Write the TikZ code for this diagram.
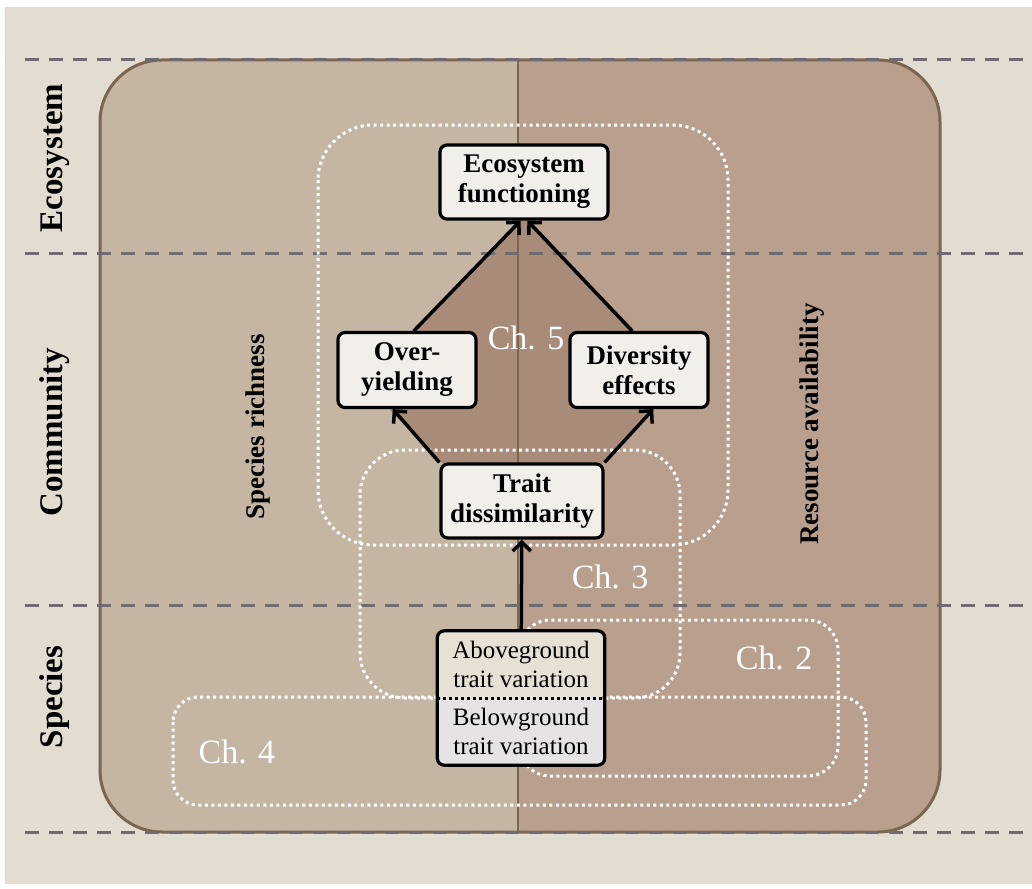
\documentclass[tikz,border=0pt]{standalone}
\usepackage{fontspec}
\setmainfont{Liberation Serif}
\usetikzlibrary{arrows.meta}

\definecolor{pagebg}{HTML}{E3DCD0}
\definecolor{leftside}{HTML}{C5B5A3}
\definecolor{rightside}{HTML}{B9A08E}
\definecolor{diamondfill}{HTML}{A88C79}
\definecolor{rim}{HTML}{7B6650}
\definecolor{levelline}{HTML}{6F6B70}
\definecolor{boxfill}{HTML}{F2EFEA}
\definecolor{abovefill}{HTML}{E7E0D5}
\definecolor{belowfill}{HTML}{E7E2E3}

\begin{document}
\begin{tikzpicture}[x=1pt,y=-1pt,>={Straight Barb[length=9pt,width=18pt]},
    main node/.style={draw=black,line width=3.2pt,fill=boxfill,rounded corners=7pt,
        align=center,inner sep=2pt,font=\fontsize{27}{30}\selectfont\bfseries},
    trait node/.style={align=center,inner sep=0pt,minimum width=167pt,minimum height=67pt,
        font=\fontsize{25}{29}\selectfont},
    chapter/.style={draw=white,line width=3pt,dash pattern=on 3pt off 3.5pt},
    chapter label/.style={text=white,font=\fontsize{34}{34}\selectfont},
    level/.style={draw=levelline,line width=3pt,dash pattern=on 14pt off 10pt},
    level label/.style={rotate=90,font=\fontsize{33}{33}\selectfont\bfseries},
    side label/.style={rotate=90,font=\fontsize{27}{27}\selectfont\bfseries},
    link/.style={->,line width=3.5pt,draw=black}]

  \useasboundingbox (0,0) rectangle (1032,888);
  \fill[white] (0,0) rectangle (1032,888);
  \fill[pagebg] (5,7) rectangle (1032,884);

  % the two halves
  \begin{scope}
    \clip[rounded corners=62pt] (100,60) rectangle (940,832);
    \fill[leftside] (100,60) rectangle (518,832);
    \fill[rightside] (518,60) rectangle (940,832);
    \fill[diamondfill] (521,219) -- (410,333) -- (390,410) -- (443,464)
      -- (602,464) -- (648,410) -- (637,333) -- (526,219) -- cycle;
    \draw[rim,line width=2.5pt] (518,60) -- (518,832);
  \end{scope}
  \draw[rim,line width=3pt,rounded corners=62pt] (100,60) rectangle (940,832);

  % levels
  \foreach \y in {60,253,605,832}
    \draw[level] (25,\y) -- (1025,\y);

  \node[level label] (ecolevel) at (55,158) {Ecosystem};
  \node[level label] (comlevel) at (55,432) {Community};
  \node[level label] (spelevel) at (55,697) {Species};

  \node[side label] (richness) at (258,427) {Species richness};
  \node[side label] (resource) at (812,424) {Resource availability};

  % chapters
  \draw[chapter,rounded corners=55pt] (318,125) rectangle (728,545);
  \draw[chapter,rounded corners=45pt] (360,450) rectangle (680,698);
  \draw[chapter,rounded corners=30pt] (520,620) rectangle (838,776);
  \draw[chapter,rounded corners=25pt] (173,697) rectangle (866,805);

  \node[chapter label] (ch5) at (526,338) {Ch. 5};
  \node[chapter label] (ch3) at (610,577) {Ch. 3};
  \node[chapter label] (ch2) at (774,658) {Ch. 2};
  \node[chapter label] (ch4) at (237,752) {Ch. 4};

  % boxes
  \node[main node,minimum width=168pt,minimum height=74pt] (eco) at (524,182)
    {Ecosystem\\functioning};
  \node[main node,minimum width=138pt,minimum height=75pt] (over) at (407,370)
    {Over-\\yielding};
  \node[main node,minimum width=138pt,minimum height=75pt] (div) at (639,370)
    {Diversity\\effects};
  \node[main node,minimum width=162pt,minimum height=74pt] (trait) at (522,501)
    {Trait\\dissimilarity};

  \node[trait node,fill=abovefill,rounded corners=7pt] (above) at (521,664.5)
    {Aboveground\\trait variation};
  \node[trait node,fill=belowfill,rounded corners=7pt] (below) at (521,731.5)
    {Belowground\\trait variation};
  \draw[black,line width=3.2pt,rounded corners=7pt]
    (above.south west) -- (above.north west) -- (above.north east) -- (above.south east);
  \draw[black,line width=3.2pt,rounded corners=7pt]
    (below.north west) -- (below.south west) -- (below.south east) -- (below.north east);
  \draw[black,line width=3pt,dash pattern=on 3pt off 3pt]
    (above.south west) -- (above.south east);

  % links
  \draw[link] (above) -- (trait);
  \draw[link] (trait.north west) -- (over.250);
  \draw[link] (trait.north east) -- (div.290);
  \draw[link] (over.80) -- (eco.265);
  \draw[link] (div.100) -- (eco.275);
\end{tikzpicture}
\end{document}
